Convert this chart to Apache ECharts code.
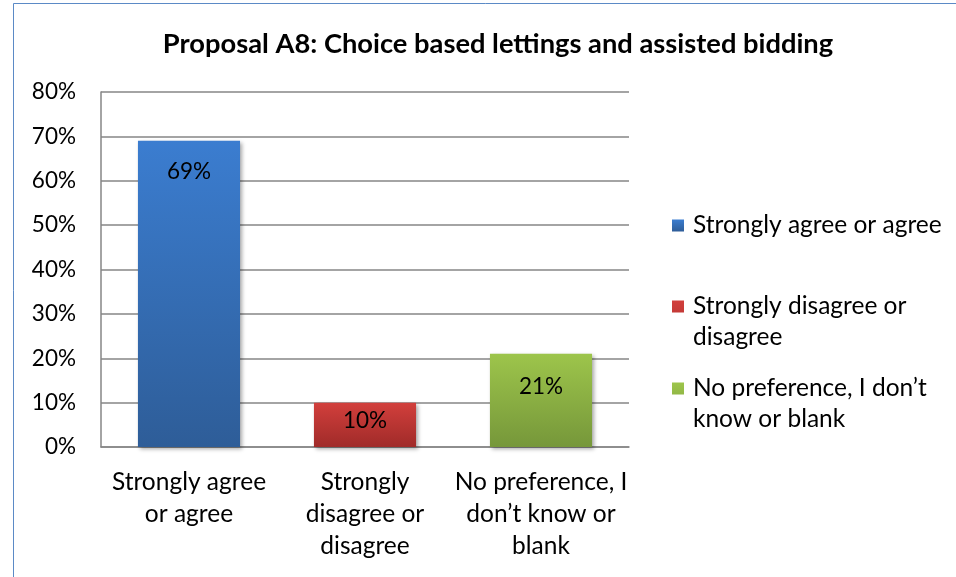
<!DOCTYPE html>
<html>
<head>
<meta charset="utf-8">
<script src="https://cdn.jsdelivr.net/npm/echarts@6/dist/echarts.min.js"></script>
<style>
  html, body { margin: 0; padding: 0; background: #ffffff; overflow: hidden; }
  #chart { width: 956px; height: 577px; }
</style>
</head>
<body>
<div id="chart"></div>
<script>
// Survey responses for proposal A8
const chartTitle = 'Proposal A8: Choice based lettings and assisted bidding';
const categories = ['Strongly agree or agree', 'Strongly disagree or disagree', 'No preference, I don’t know or blank'];
const tickLabels = ['Strongly agree\nor agree', 'Strongly\ndisagree or\ndisagree', 'No preference, I\ndon’t know or\nblank'];
const legendLabels = ['Strongly agree or agree', 'Strongly disagree or\ndisagree', 'No preference, I don’t\nknow or blank'];
const shares = [0.69, 0.10, 0.21];
const yTicks = [0, 0.1, 0.2, 0.3, 0.4, 0.5, 0.6, 0.7, 0.8];

const FONT = 'Lato';
const TEXT_SIZE = 24.5;
const NUM_SIZE = 22.5;
const palette = [
  ['#3b7dd0', '#2e5d98'],
  ['#d23f3c', '#a02b29'],
  ['#9dc54b', '#76973a']
];
const labelDistance = [19, 7, 21];

function grad(c) {
  return { type: 'linear', x: 0, y: 0, x2: 0, y2: 1,
    colorStops: [{ offset: 0, color: c[0] }, { offset: 1, color: c[1] }] };
}

// one series per category so each gets its own legend entry
const series = categories.map((name, i) => ({
  name: name,
  type: 'bar',
  stack: 'all',
  barWidth: '58%',
  data: categories.map((_, j) => (j === i ? shares[i] : '-')),
  itemStyle: {
    color: grad(palette[i]),
    shadowBlur: 4, shadowOffsetX: 2, shadowOffsetY: 2, shadowColor: 'rgba(0,0,0,0.35)'
  },
  label: {
    show: true, position: 'insideTop', distance: labelDistance[i],
    fontFamily: FONT, fontSize: NUM_SIZE, color: '#000',
    formatter: p => Math.round(p.value * 100) + '%'
  }
}));

// square icon sitting on the first text line of a two-line entry
const tallIcon = 'path://M0,0H12V12H0Z M0,43H12';
const legendTops = [205, 286, 368];
const legends = categories.map((name, i) => ({
  left: 667, top: legendTops[i], orient: 'vertical',
  itemWidth: 12, itemHeight: i === 0 ? 12 : 43, itemGap: 0,
  icon: i === 0 ? 'rect' : tallIcon,
  selectedMode: false,
  data: [name],
  formatter: () => legendLabels[i],
  textStyle: { fontFamily: FONT, fontSize: TEXT_SIZE, color: '#000', lineHeight: 31, padding: [0, 0, 0, 4] }
}));

const chart = echarts.init(document.getElementById('chart'), null, { renderer: 'canvas' });
chart.setOption({
  animation: false,
  backgroundColor: '#ffffff',
  title: {
    text: chartTitle, left: 493, top: 26, textAlign: 'center',
    textStyle: { fontFamily: FONT, fontSize: 27.3, fontWeight: 'bold', color: '#000' }
  },
  graphic: [{
    type: 'rect', silent: true,
    shape: { x: 13.5, y: 3.5, width: 1200, height: 1200 },
    style: { fill: 'none', stroke: '#5b8ac6', lineWidth: 1 }
  }],
  legend: legends,
  grid: { left: 101, right: 327, top: 92, bottom: 130, containLabel: false },
  xAxis: {
    type: 'category', data: categories,
    axisLine: { show: true, lineStyle: { color: '#868686', width: 1.5 } },
    axisTick: { show: false },
    axisLabel: {
      interval: 0, hideOverlap: false,
      margin: 19, fontFamily: FONT, fontSize: TEXT_SIZE, color: '#000', lineHeight: 32,
      formatter: (v, i) => tickLabels[i]
    }
  },
  yAxis: {
    type: 'value', min: yTicks[0], max: yTicks[yTicks.length - 1], interval: 0.1,
    axisLine: { show: true, lineStyle: { color: '#868686', width: 1.5 } },
    axisTick: { show: false },
    splitLine: { show: true, lineStyle: { color: '#868686', width: 1.5 } },
    axisLabel: {
      margin: 25, fontFamily: FONT, fontSize: NUM_SIZE, color: '#000',
      formatter: v => Math.round(v * 100) + '%'
    }
  },
  series: series
});
</script>
</body>
</html>
